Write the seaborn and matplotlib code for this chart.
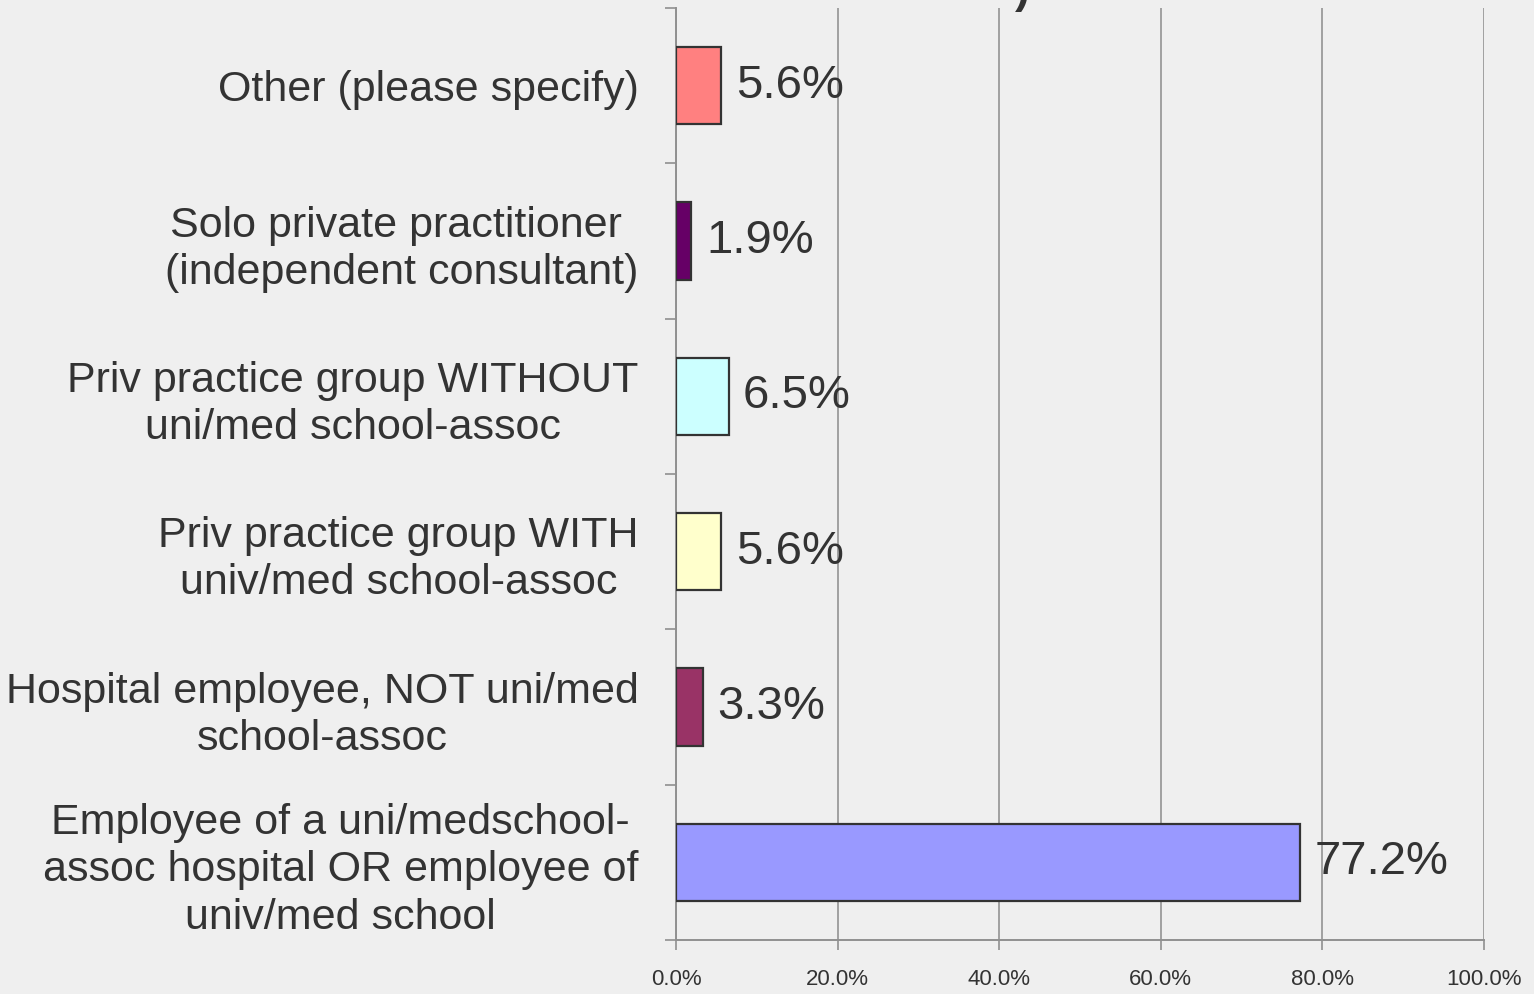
import numpy as np
import pandas as pd
import matplotlib
matplotlib.use("Agg")
import matplotlib.pyplot as plt
import seaborn as sns
from matplotlib.ticker import FixedLocator, PercentFormatter

# data (top to bottom)
categories = [
    "Other (please specify)",
    "Solo private practitioner \n(independent consultant)",
    "Priv practice group WITHOUT\nuni/med school-assoc",
    "Priv practice group WITH\nuniv/med school-assoc",
    "Hospital employee, NOT uni/med\nschool-assoc",
    "Employee of a uni/medschool-\nassoc hospital OR employee of\nuniv/med school",
]
values = [5.6, 1.9, 6.5, 5.6, 3.3, 77.2]
colors = ["#FF8080", "#660066", "#CCFFFF", "#FFFFCC", "#993366", "#9999FF"]
xticks = [0, 20, 40, 60, 80, 100]

df = pd.DataFrame({"category": categories, "value": values})

sns.set_theme(style="white")
plt.rcParams["font.family"] = ["Liberation Sans", "DejaVu Sans"]
bg = "#efefef"
txt = "#333333"

fig = plt.figure(figsize=(15.34, 9.94), dpi=100, facecolor=bg)
ax = fig.add_axes([676/1534, 1-940/994, 808/1534, 932/994])
ax.set_facecolor(bg)

sns.barplot(data=df, x="value", y="category", hue="category", palette=colors,
            saturation=1, legend=False, width=0.5, edgecolor=txt, linewidth=1.6,
            orient="h", ax=ax, zorder=3)

ax.set_xlim(0, 100)
ax.set_ylim(5.5, -0.5)
ax.set_xlabel("")
ax.set_ylabel("")

# vertical grid
ax.set_xticks(xticks)
ax.xaxis.grid(True, color="#a0a0a0", linewidth=1.4, zorder=0)
ax.yaxis.grid(False)
ax.xaxis.set_major_formatter(PercentFormatter(decimals=1))
ax.tick_params(axis="x", length=7, width=1.2, color="#909090", labelsize=16,
               labelcolor=txt, pad=14, bottom=True)

# category labels, ticks at boundaries
ax.tick_params(axis="y", which="major", length=0, pad=27, labelsize=31, labelcolor=txt)
ax.yaxis.set_minor_locator(FixedLocator(np.arange(-0.5, 6, 1)))
ax.tick_params(axis="y", which="minor", length=8, width=1.2, color="#909090", left=True)
for lab in ax.get_yticklabels():
    lab.set_multialignment("center")
    lab.set_linespacing(1.23)

for s in ["top", "right"]:
    ax.spines[s].set_visible(False)
for s in ["left", "bottom"]:
    ax.spines[s].set_color("#909090")
    ax.spines[s].set_linewidth(1.4)

# value labels
for i, v in enumerate(values):
    ax.text(v + 1.8, i, f"{v:.1f}%", va="center", ha="left", fontsize=34, color=txt, zorder=4)

# cut-off title fragment at the top
fig.text(1022/1534, 1 - 3/994, ")", fontsize=32, fontweight="bold", color=txt,
         ha="center", va="baseline")

fig.savefig("out.png", dpi=100, facecolor=bg)
